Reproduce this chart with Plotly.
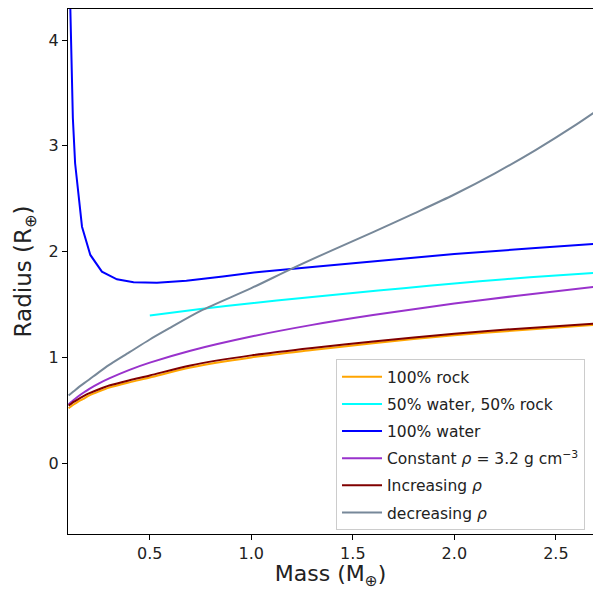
import plotly.graph_objects as go

# Mass grids (Earth masses) and radii (Earth radii) for each composition model
mass_rock = [0.1, 0.11, 0.125, 0.14, 0.16, 0.18, 0.2, 0.25, 0.3, 0.4, 0.5, 0.7,
             1.0, 1.3, 1.6, 2.0, 2.3, 2.7]
radius_rock = [0.52, 0.535, 0.556, 0.574, 0.597, 0.617, 0.64, 0.68, 0.715, 0.765,
               0.81, 0.905, 1.0, 1.07, 1.135, 1.21, 1.255, 1.31]

mass_half = [0.5, 0.75, 1.0, 1.25, 1.5, 1.75, 2.0, 2.25, 2.5, 2.7]
radius_half = [1.397, 1.458, 1.512, 1.563, 1.61, 1.655, 1.70, 1.74, 1.775, 1.80]

mass_water = [0.1, 0.108, 0.121, 0.132, 0.166, 0.207, 0.264, 0.338, 0.42, 0.535,
              0.68, 0.86, 1.05, 1.3, 1.6, 2.0, 2.4, 2.7]
radius_water = [5.0, 4.3, 3.26, 2.835, 2.236, 1.969, 1.811, 1.739, 1.712, 1.707,
                1.725, 1.765, 1.811, 1.856, 1.908, 1.978, 2.034, 2.075]

mass_const = [0.1, 0.11, 0.125, 0.14, 0.16, 0.18, 0.2, 0.25, 0.3, 0.4, 0.5, 0.7,
              1.0, 1.3, 1.6, 2.0, 2.3, 2.7]
radius_const = [0.556, 0.574, 0.599, 0.622, 0.650, 0.676, 0.701, 0.755, 0.802,
                0.883, 0.951, 1.064, 1.198, 1.308, 1.401, 1.510, 1.581, 1.669]

mass_inc = [0.1, 0.11, 0.125, 0.14, 0.16, 0.18, 0.2, 0.25, 0.3, 0.4, 0.5, 0.7,
            1.0, 1.3, 1.6, 2.0, 2.3, 2.7]
radius_inc = [0.545, 0.559, 0.58, 0.598, 0.62, 0.641, 0.66, 0.70, 0.735, 0.785,
              0.83, 0.925, 1.02, 1.09, 1.15, 1.225, 1.27, 1.322]

mass_dec = [0.1, 0.125, 0.15, 0.175, 0.2, 0.25, 0.3, 0.4, 0.5, 0.6, 0.75, 1.0,
            1.2, 1.4, 1.6, 1.8, 2.0, 2.2, 2.4, 2.6, 2.7]
radius_dec = [0.64, 0.68, 0.72, 0.755, 0.79, 0.862, 0.93, 1.05, 1.17, 1.28, 1.44,
              1.655, 1.84, 2.015, 2.185, 2.36, 2.54, 2.74, 2.96, 3.20, 3.33]

series = [
    ("100% rock", mass_rock, radius_rock, "#FFA500", "spline"),
    ("50% water, 50% rock", mass_half, radius_half, "#00FFFF", "spline"),
    ("100% water", mass_water, radius_water, "#0000FF", "linear"),
    ("Constant <i>ρ</i> = 3.2 g cm<sup>−3</sup>", mass_const, radius_const, "#9932CC", "spline"),
    ("Increasing <i>ρ</i>", mass_inc, radius_inc, "#800000", "spline"),
    ("decreasing <i>ρ</i>", mass_dec, radius_dec, "#778899", "spline"),
]

fig = go.Figure()
for i, (name, xs, ys, color, shape) in enumerate(series):
    line = dict(color=color, width=2, shape=shape)
    if shape == "spline":
        line["smoothing"] = 0.8
    fig.add_trace(go.Scatter(
        x=xs, y=ys, mode="lines", name=name, line=line,
        legendgroup=f"g{i}",
    ))

axis_common = dict(
    showline=True, linecolor="black", linewidth=1.2,
    ticks="outside", ticklen=5, tickwidth=1.2, tickcolor="black",
    showgrid=False, zeroline=False,
    tickfont=dict(family="DejaVu Sans", size=16, color="#222"),
)

fig.update_layout(
    width=593, height=590,
    margin=dict(l=68, r=0, t=9, b=56),
    paper_bgcolor="white", plot_bgcolor="white",
    font=dict(family="DejaVu Sans", color="#222"),
    xaxis=dict(
        range=[0.097, 2.683], tickvals=[0.5, 1.0, 1.5, 2.0, 2.5],
        ticktext=["0.5", "1.0", "1.5", "2.0", "2.5"],
        mirror=True,
        title=dict(text="Mass (M<sub>⊕</sub>)", font=dict(size=22), standoff=9),
        **axis_common,
    ),
    yaxis=dict(
        range=[-0.668, 4.293], tickvals=[0, 1, 2, 3, 4],
        title=dict(text="Radius (R<sub>⊕</sub>)", font=dict(size=23), standoff=10),
        **axis_common,
    ),
    legend=dict(
        x=0.5105, y=0.333, xanchor="left", yanchor="top",
        bgcolor="rgba(255,255,255,0.8)", bordercolor="#cccccc", borderwidth=1,
        font=dict(family="DejaVu Sans", size=15.5, color="#222"),
        itemwidth=40,
        tracegroupgap=4,
    ),
)

fig.write_html("out.html")
